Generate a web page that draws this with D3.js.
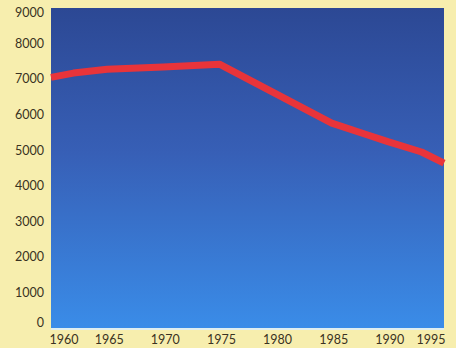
<!DOCTYPE html>
<html><head><meta charset="utf-8">
<script src="https://cdn.jsdelivr.net/npm/d3@7"></script>
<style>
html,body{margin:0;padding:0;background:#f7eeae;}
svg{display:block;}
text{font-family:Lato,"Open Sans",sans-serif;fill:#3a3222;font-size:12.5px;}
</style></head><body>
<svg id="c" width="456" height="348"></svg>
<script>
const years = [1960, 1962, 1965, 1970, 1975, 1980, 1985, 1988, 1990, 1993, 1995];
const values = [7050, 7170, 7280, 7340, 7420, 6590, 5760, 5450, 5240, 4950, 4640];
const xTicks = [1960, 1965, 1970, 1975, 1980, 1985, 1990, 1995];
const yTicks = [0, 1000, 2000, 3000, 4000, 5000, 6000, 7000, 8000, 9000];

const svg = d3.select("#c");
const L = 51, R = 444, T = 8, B = 328;
const x = d3.scaleLinear().domain([1960, 1995]).range([L, R]);
const y = d3.scaleLinear().domain([0, 9000]).range([B, T]);

const defs = svg.append("defs");
const g = defs.append("linearGradient").attr("id", "bg").attr("x1", 0).attr("y1", 0).attr("x2", 0).attr("y2", 1);
g.append("stop").attr("offset", "0%").attr("stop-color", "#2c4894");
g.append("stop").attr("offset", "45%").attr("stop-color", "#375fb6");
g.append("stop").attr("offset", "100%").attr("stop-color", "#3a8ce8");

svg.append("rect").attr("x", L).attr("y", T).attr("width", R - L).attr("height", B - T).attr("fill", "url(#bg)");
svg.append("line").attr("x1", L).attr("x2", R).attr("y1", B + 1).attr("y2", B + 1).attr("stroke", "#dfeef0").attr("stroke-width", 2);

// y labels
svg.append("g").selectAll("text").data(yTicks).join("text")
  .attr("x", 44).attr("y", d => y(d))
  .attr("dy", d => d === 0 ? "-0.05em" : d === 9000 ? "0.75em" : "0.35em")
  .attr("text-anchor", "end").text(d => d);

// x labels
svg.append("g").selectAll("text").data(xTicks).join("text")
  .attr("x", d => x(d)).attr("dx", d => d === 1960 ? 13 : d === 1995 ? -13 : 2)
  .attr("y", 344).attr("text-anchor", "middle").text(d => d);

const line = d3.line().x((d, i) => x(years[i])).y(d => y(d)).curve(d3.curveLinear);
svg.append("path").attr("d", line(values)).attr("fill", "none")
  .attr("stroke", "#e8343a").attr("stroke-width", 7).attr("stroke-linejoin", "round");
</script>
</body></html>
